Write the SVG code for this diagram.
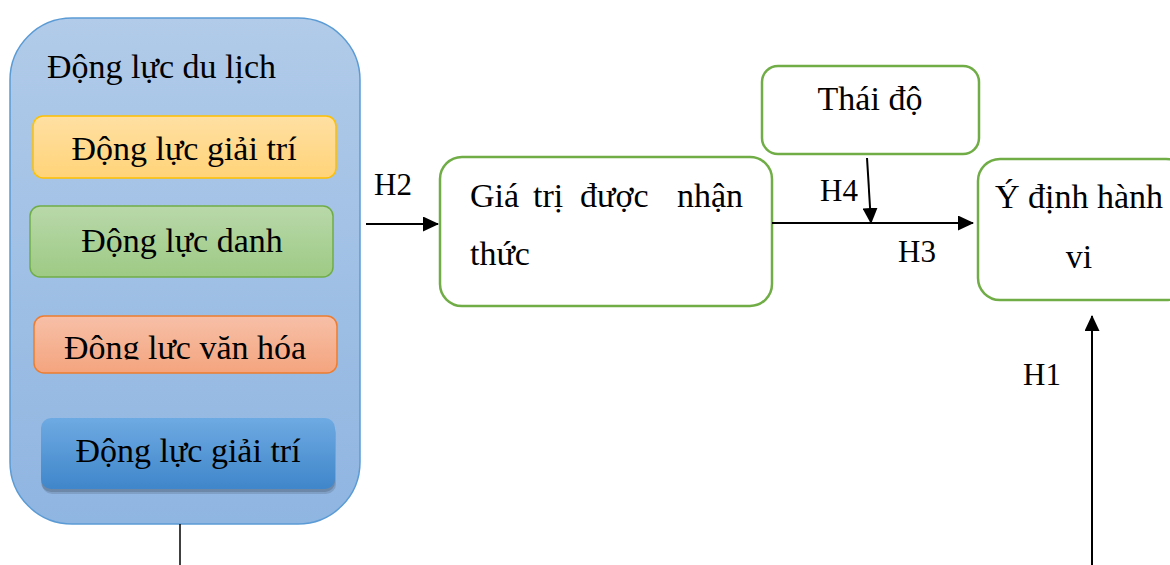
<svg xmlns="http://www.w3.org/2000/svg" width="1170" height="565" viewBox="0 0 1170 565" font-family="Liberation Serif">
<defs>
<linearGradient id="gOuter" x1="0" y1="0" x2="0" y2="1"><stop offset="0" stop-color="#b1cbe9"/><stop offset="1" stop-color="#8fb5e1"/></linearGradient>
<linearGradient id="gY" x1="0" y1="0" x2="0" y2="1"><stop offset="0" stop-color="#ffe0a3"/><stop offset="1" stop-color="#ffd378"/></linearGradient>
<linearGradient id="gG" x1="0" y1="0" x2="0" y2="1"><stop offset="0" stop-color="#b9d8aa"/><stop offset="1" stop-color="#9dca84"/></linearGradient>
<linearGradient id="gO" x1="0" y1="0" x2="0" y2="1"><stop offset="0" stop-color="#f7c0a8"/><stop offset="1" stop-color="#f4a47e"/></linearGradient>
<linearGradient id="gB" x1="0" y1="0" x2="0" y2="1"><stop offset="0" stop-color="#6eaae2"/><stop offset="1" stop-color="#3f86ca"/></linearGradient>
<clipPath id="cO"><rect x="34" y="316" width="303" height="43.5"/></clipPath>
<marker id="ah2" markerWidth="16" markerHeight="15" refX="15" refY="7.5" orient="auto" markerUnits="userSpaceOnUse"><path d="M0,0 L16,7.5 L0,15 z" fill="#000"/></marker>
</defs>
<rect x="0" y="0" width="1170" height="565" fill="#fff"/>

<g id="n-dongluc">
<rect x="10" y="18" width="350" height="506" rx="62" fill="url(#gOuter)" stroke="#5b9bd5" stroke-width="1.5"/>
<text x="47" y="78" font-family="Liberation Serif" font-size="34">Động lực du lịch</text>
</g>
<g id="n-giaitri1">
<rect x="33" y="116" width="303" height="62" rx="10" fill="url(#gY)" stroke="#ffc000" stroke-width="1.5"/>
<text x="184" y="160" text-anchor="middle" font-family="Liberation Serif" font-size="34">Động lực giải trí</text>
</g>
<g id="n-danh">
<rect x="30" y="206" width="303" height="71" rx="10" fill="url(#gG)" stroke="#70ad47" stroke-width="1.5"/>
<text x="182" y="252" text-anchor="middle" font-family="Liberation Serif" font-size="34">Động lực danh</text>
</g>
<g id="n-vanhoa">
<rect x="34" y="316" width="303" height="57" rx="10" fill="url(#gO)" stroke="#ed7d31" stroke-width="1.5"/>
<text x="185" y="359" text-anchor="middle" clip-path="url(#cO)" font-family="Liberation Serif" font-size="34">Động lực văn hóa</text>
</g>
<g id="n-giaitri2">
<rect x="42" y="423" width="294" height="71" rx="10" fill="#000" opacity="0.12"/>
<rect x="41" y="421" width="294" height="71" rx="10" fill="#000" opacity="0.15"/>
<rect x="41" y="418" width="294" height="71" rx="10" fill="url(#gB)"/>
<text x="188" y="462" text-anchor="middle" font-family="Liberation Serif" font-size="34">Động lực giải trí</text>
</g>
<g id="n-giatri">
<rect x="440" y="157" width="332" height="149" rx="22" fill="#fff" stroke="#70ad47" stroke-width="2.5"/>
<text y="207" font-family="Liberation Serif" font-size="34"><tspan x="470">Giá</tspan><tspan x="533">trị</tspan><tspan x="580">được</tspan><tspan x="677">nhận</tspan></text>
<text x="470" y="265" font-family="Liberation Serif" font-size="34">thức</text>
</g>
<g id="n-thaido">
<rect x="762" y="66" width="217" height="88" rx="16" fill="#fff" stroke="#70ad47" stroke-width="2.5"/>
<text x="870" y="110" text-anchor="middle" font-family="Liberation Serif" font-size="34">Thái độ</text>
</g>
<g id="n-ydinh">
<rect x="978" y="159" width="210" height="141" rx="22" fill="#fff" stroke="#70ad47" stroke-width="2.5"/>
<text x="995" y="208" font-family="Liberation Serif" font-size="34">Ý định hành</text>
<text x="1079" y="268" text-anchor="middle" font-family="Liberation Serif" font-size="34">vi</text>
</g>

<g id="connectors" stroke="#000" stroke-width="2" fill="none">
<line x1="366" y1="224" x2="438" y2="224" marker-end="url(#ah2)"/>
<line x1="772" y1="223" x2="973" y2="223" marker-end="url(#ah2)"/>
<line x1="867" y1="158" x2="871" y2="223" marker-end="url(#ah2)"/>
<line x1="1092" y1="565" x2="1092" y2="316" marker-end="url(#ah2)"/>
<line x1="180" y1="524" x2="180" y2="565" stroke-width="1.5"/>
</g>
<g id="labels">
<text x="374" y="195" font-family="Liberation Serif" font-size="31">H2</text>
<text x="820" y="201" font-family="Liberation Serif" font-size="31">H4</text>
<text x="898" y="262" font-family="Liberation Serif" font-size="31">H3</text>
<text x="1023" y="385" font-family="Liberation Serif" font-size="31">H1</text>
</g>
</svg>
